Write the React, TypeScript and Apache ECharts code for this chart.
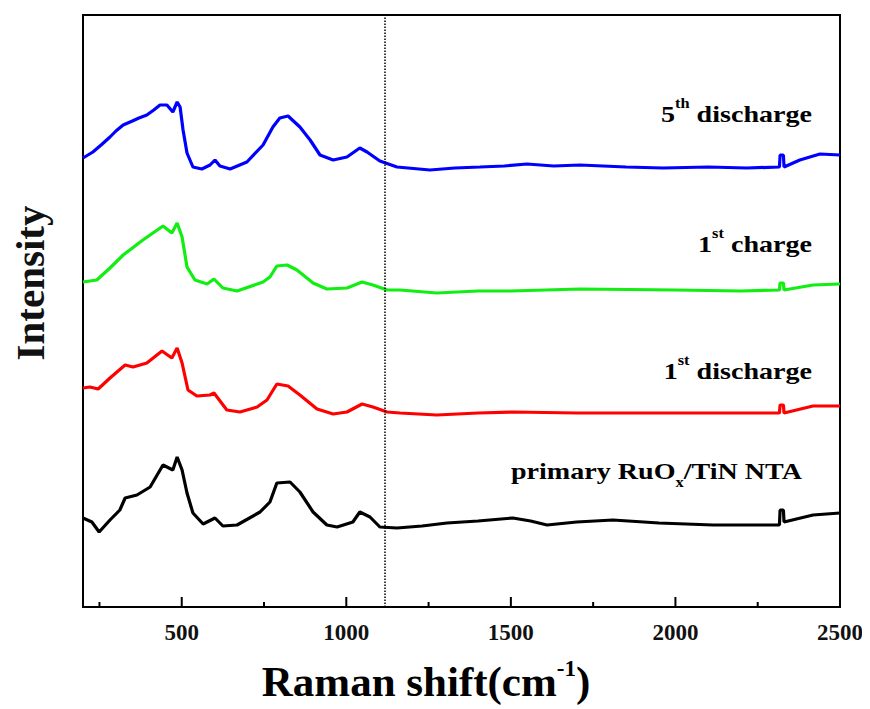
import React, { useEffect, useRef } from "react";
import * as echarts from "echarts";

// Raman shift (cm-1) and intensity (arb. units, stacked offsets)
const fifthDischarge: [number, number][] = [
  [200, 449], [215, 452], [230, 455], [255, 462], [282, 470], [300, 476], [322, 482], [350, 486], [370, 489], [394, 492],
  [415, 497], [434, 502], [455, 502], [473, 495], [486, 505], [495, 500], [504, 477], [516, 454], [534, 440],
  [561, 438], [586, 442], [601, 447], [616, 441], [647, 438], [698, 445], [747, 462], [777, 480], [798, 489],
  [823, 491], [859, 480], [890, 467], [920, 452], [960, 447], [1002, 450], [1041, 459], [1063, 455], [1102, 446],
  [1154, 440], [1254, 437], [1330, 439], [1406, 440], [1480, 441], [1549, 443], [1630, 441], [1710, 442], [1850, 440], [1962, 439],
  [2100, 440], [2217, 439], [2316, 440], [2318, 452], [2328, 452], [2330, 440], [2378, 447], [2439, 453], [2500, 452],
];

const firstCharge: [number, number][] = [
  [200, 325], [242, 327], [282, 339], [322, 352], [382, 367], [443, 381], [470, 374], [486, 384], [501, 370],
  [516, 340], [540, 327], [577, 323], [598, 328], [625, 319], [668, 316], [747, 325], [768, 330], [789, 341],
  [820, 342], [850, 337], [899, 324], [941, 318], [1002, 319], [1048, 325], [1081, 322], [1124, 317], [1163, 317],
  [1275, 314], [1400, 316], [1500, 316], [1710, 318], [2000, 317], [2200, 316], [2316, 317], [2318, 324], [2328, 324],
  [2330, 317], [2418, 322], [2500, 323],
];

const firstDischarge: [number, number][] = [
  [200, 219], [221, 220], [246, 218], [282, 229], [328, 242], [352, 240], [394, 244], [440, 256], [470, 249],
  [486, 259], [501, 244], [519, 217], [546, 211], [586, 212], [598, 214], [637, 197], [677, 195], [729, 200],
  [759, 207], [789, 223], [823, 221], [859, 212], [911, 198], [960, 193], [1002, 195], [1048, 203], [1081, 200],
  [1124, 195], [1163, 194], [1275, 192], [1400, 194], [1506, 195], [1700, 194], [1913, 194], [2100, 194], [2316, 194],
  [2318, 202], [2328, 202], [2330, 194], [2418, 201], [2500, 201],
];

const primary: [number, number][] = [
  [200, 89], [227, 85], [249, 75], [282, 87], [312, 97], [328, 109], [364, 112], [404, 120], [443, 142],
  [473, 137], [486, 150], [501, 137], [516, 114], [534, 94], [565, 83], [601, 89], [625, 81], [668, 82],
  [738, 95], [768, 105], [789, 124], [829, 125], [859, 115], [899, 95], [941, 82], [972, 80], [1020, 85],
  [1041, 95], [1072, 90], [1102, 80], [1154, 79], [1230, 81], [1306, 84], [1400, 86], [1506, 89], [1560, 86], [1610, 82],
  [1700, 85], [1810, 87], [1950, 84], [2114, 82], [2316, 82], [2318, 97], [2328, 97], [2330, 85], [2418, 92], [2500, 94],
];

const majorTicks = [500, 1000, 1500, 2000, 2500];
const minorTicks = [250, 750, 1250, 1750, 2250];
const dividerShift = 1117;

const FONT = "'Liberation Serif', 'Times New Roman', serif";

export default function App() {
  const ref = useRef<HTMLDivElement>(null);
  useEffect(() => {
    if (!ref.current) return;
    const chart = echarts.init(ref.current, undefined, { renderer: "svg" });
    const mkSeries = (name: string, data: [number, number][], color: string, extra: any = {}) => ({
      name,
      type: "line",
      data,
      showSymbol: false,
      symbol: "none",
      lineStyle: { color, width: 3.2 },
      itemStyle: { color },
      z: 3,
      ...extra,
    });
    const labelRich = {
      n: { fontFamily: FONT, fontWeight: "bold", fontSize: 24, color: "#111", lineHeight: 30, verticalAlign: "bottom" },
      s: { fontFamily: FONT, fontWeight: "bold", fontSize: 14, color: "#111", lineHeight: 30, verticalAlign: "top" },
    };
    const subRich = {
      n: { fontFamily: FONT, fontWeight: "bold", fontSize: 24, color: "#111", lineHeight: 30, verticalAlign: "top" },
      b: { fontFamily: FONT, fontWeight: "bold", fontSize: 14, color: "#111", lineHeight: 16, verticalAlign: "bottom", padding: [20, 0, 0, 0] },
    };
    const curveLabel = (text: string, x: number, y: number, rich: any) => ({
      type: "text", x, y, scaleX: 1.17, scaleY: 1,
      style: { text, rich, align: "right", verticalAlign: "top" },
    });
    const textGraphics: any[] = [
      curveLabel("{n|5}{s|th}{n| discharge}", 812, 96, labelRich),
      curveLabel("{n|1}{s|st}{n| charge}", 812, 226, labelRich),
      curveLabel("{n|1}{s|st}{n| discharge}", 812, 353, labelRich),
      curveLabel("{n|primary RuO}{b|x}{n|/TiN NTA}", 802, 459, subRich),
      {
        type: "text", x: 30, y: 283, rotation: Math.PI / 2,
        style: {
          text: "Intensity", align: "center", verticalAlign: "middle",
          fontFamily: FONT, fontWeight: "bold", fontSize: 41, fill: "#111",
        },
      },
      {
        type: "text", x: 426, y: 680,
        style: {
          text: "{t|Raman shift(cm}{s|-1}{t|)}", align: "center", verticalAlign: "middle",
          rich: {
            t: { fontFamily: FONT, fontWeight: "bold", fontSize: 43, color: "#111", lineHeight: 46, verticalAlign: "bottom" },
            s: { fontFamily: FONT, fontWeight: "bold", fontSize: 23, color: "#111", lineHeight: 46, verticalAlign: "top" },
          },
        },
      },
    ];
    chart.setOption({
      animation: false,
      grid: {
        left: 83, top: 15, right: 30, bottom: 102,
        outerBoundsMode: "none",
        containLabel: false,
        show: true, borderColor: "#000", borderWidth: 2, backgroundColor: "transparent",
      },
      xAxis: {
        type: "value", min: 200, max: 2500, position: "bottom",
        axisLine: { show: true, lineStyle: { color: "#000", width: 2 } },
        splitLine: { show: false },
        axisTick: { show: false },
        axisLabel: {
          show: true, customValues: majorTicks, margin: 14,
          formatter: (v: number) => String(v),
          fontFamily: FONT, fontWeight: "bold", fontSize: 23, color: "#111",
        },
      },
      yAxis: {
        type: "value", min: 0, max: 592,
        axisLine: { show: false }, axisTick: { show: false }, axisLabel: { show: false }, splitLine: { show: false },
      },
      series: [
        mkSeries("primary RuOx/TiN NTA", primary, "#000000", {
          markLine: {
            silent: true,
            symbol: "none",
            label: { show: false },
            lineStyle: { color: "#000", type: "dotted", width: 1.5 },
            data: [{ xAxis: dividerShift }],
          },
        }),
        mkSeries("1st discharge", firstDischarge, "#ff0000"),
        mkSeries("1st charge", firstCharge, "#11ee11"),
        mkSeries("5th discharge", fifthDischarge, "#0000ff"),
      ],
      graphic: textGraphics,
    });
    // axis ticks, placed through the chart's own x scale
    const tickGraphic = (v: number, len: number) => {
      const p = chart.convertToPixel({ gridIndex: 0 }, [v, 0]) as number[];
      return {
        type: "line",
        z: 10,
        silent: true,
        shape: { x1: p[0], y1: p[1], x2: p[0], y2: p[1] - len },
        style: { stroke: "#000", lineWidth: 2 },
      };
    };
    chart.setOption({
      graphic: [
        ...textGraphics,
        ...majorTicks.map((v) => tickGraphic(v, 10)),
        ...minorTicks.map((v) => tickGraphic(v, 5)),
      ],
    });
    return () => chart.dispose();
  }, []);
  return <div ref={ref} style={{ width: 870, height: 709, marginLeft: -8, marginTop: -8 }} />;
}
